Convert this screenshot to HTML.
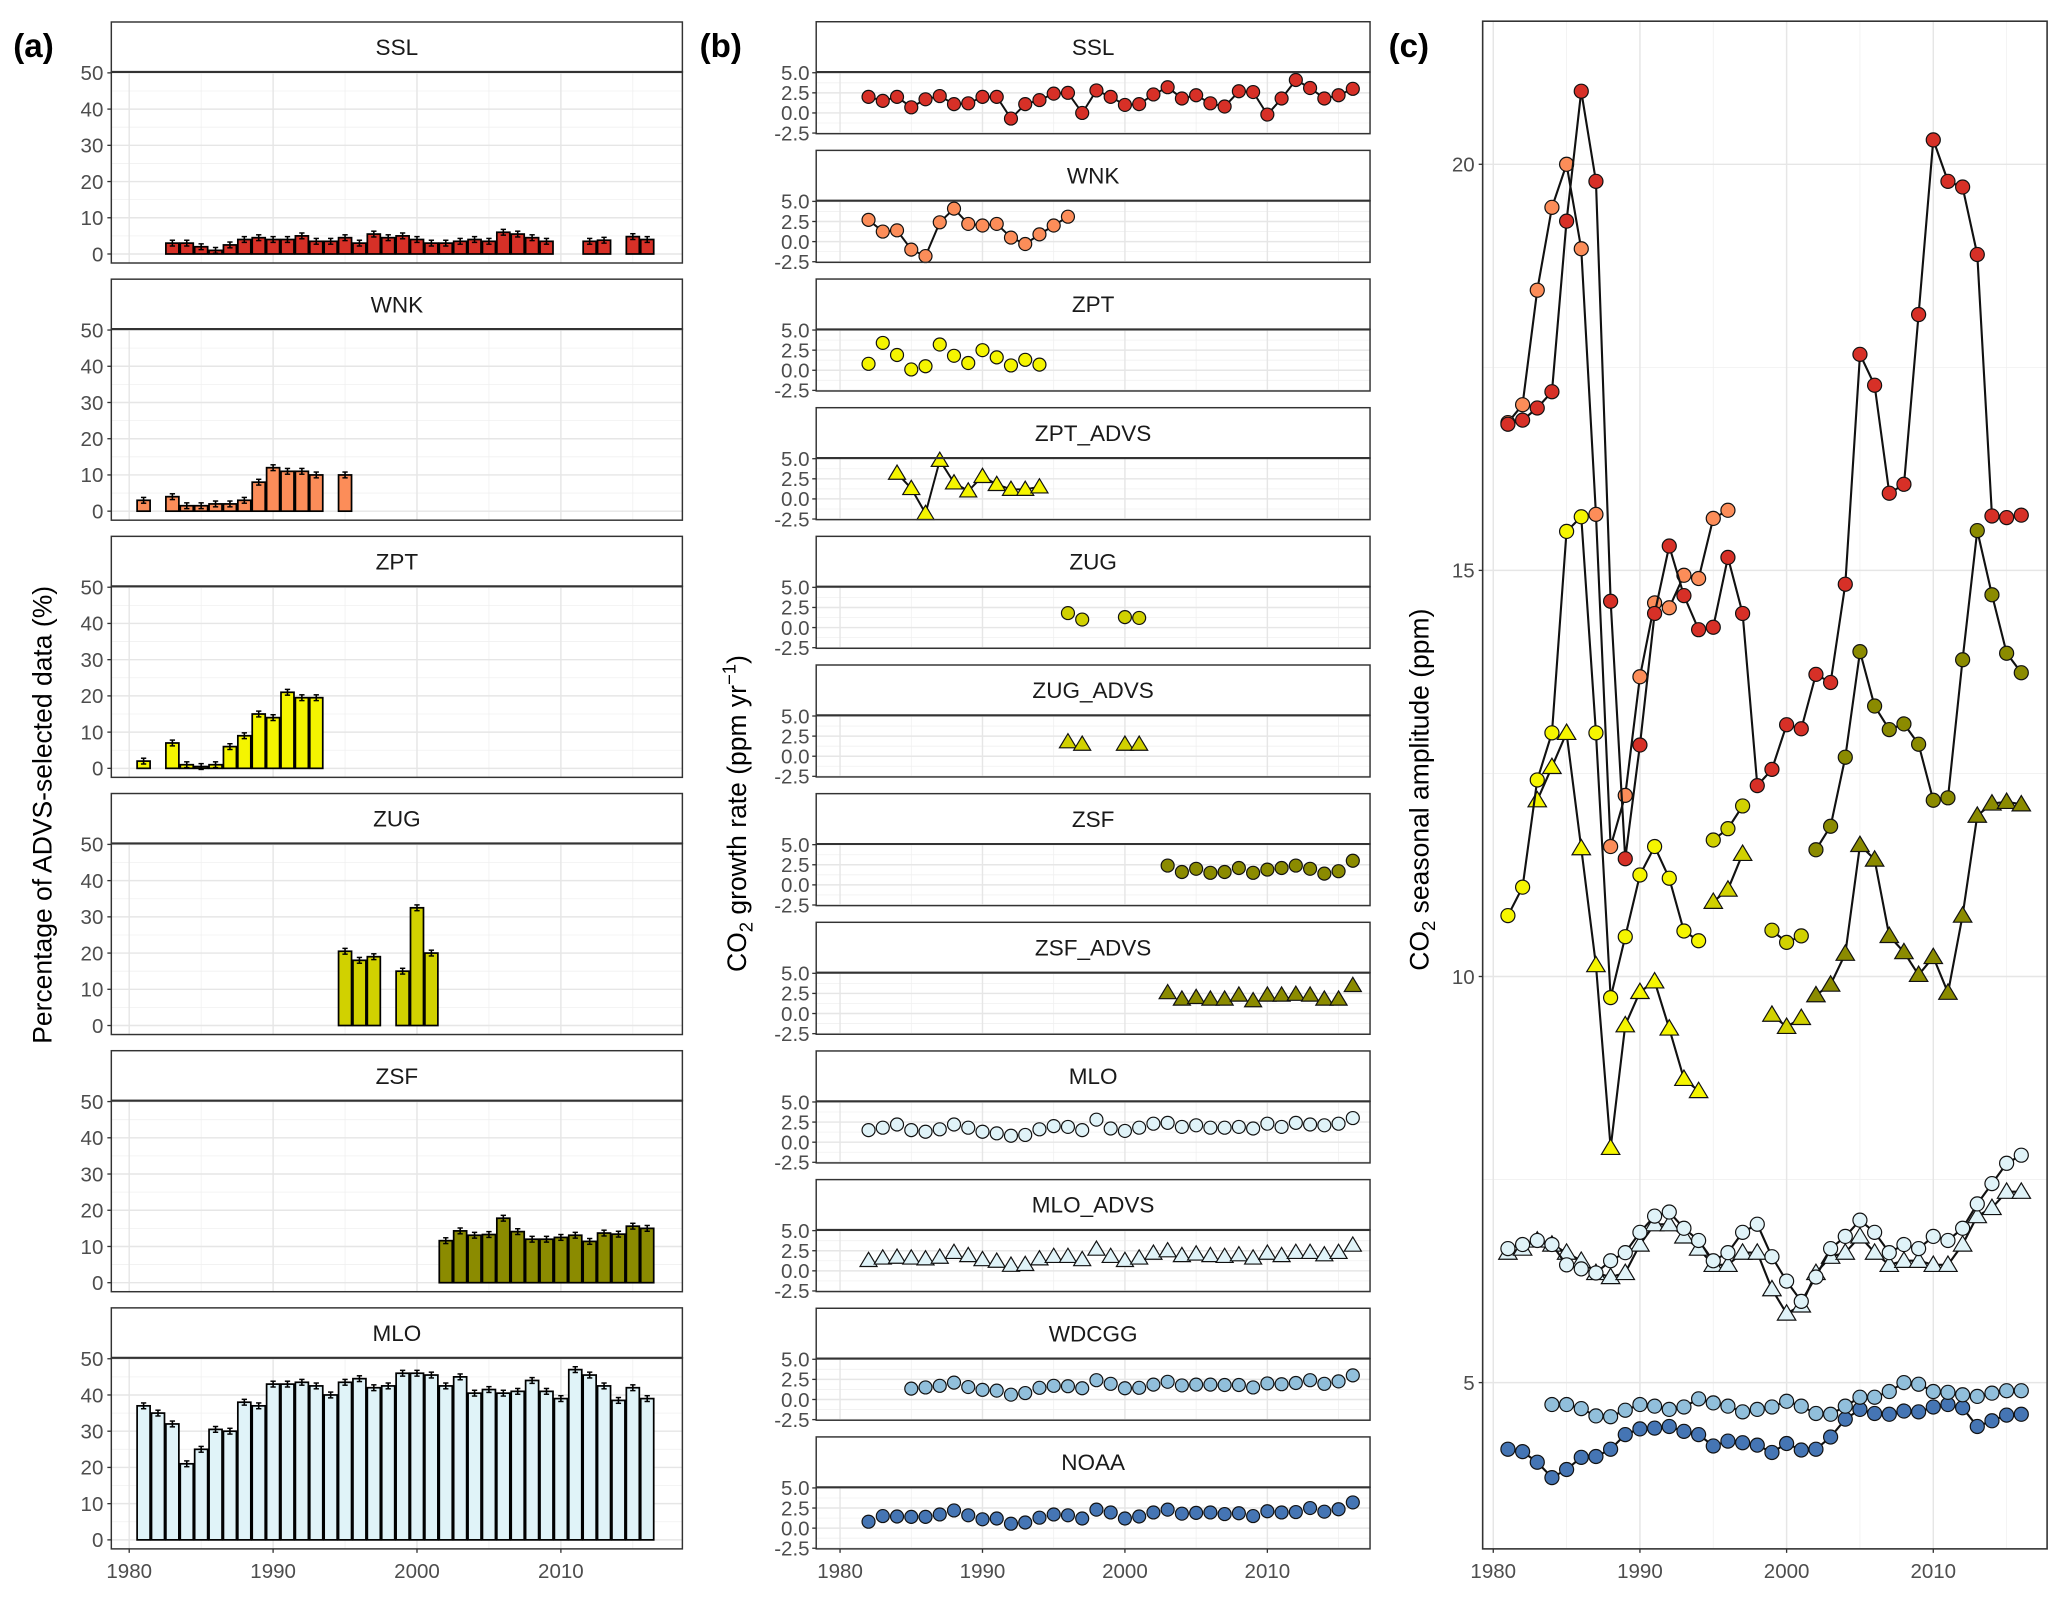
<!DOCTYPE html>
<html><head><meta charset="utf-8"><style>
html,body{margin:0;padding:0;background:#fff;}
svg{display:block;font-family:"Liberation Sans",Arial,sans-serif;}
</style></head><body>
<svg id="fig" xmlns="http://www.w3.org/2000/svg" width="2067" height="1604" viewBox="0 0 1560 1210.6">
<rect x="0" y="0" width="1560" height="1210.6" fill="#fff"/>
<text x="10" y="43" font-size="25" font-weight="bold">(a)</text>
<text x="528" y="43" font-size="25" font-weight="bold">(b)</text>
<text x="1048" y="43" font-size="25" font-weight="bold">(c)</text>
<text transform="translate(39,615) rotate(-90)" text-anchor="middle" font-size="20">Percentage of ADVS-selected data (%)</text>
<text transform="translate(563,614) rotate(-90)" text-anchor="middle" font-size="20">CO<tspan font-size="14" dy="5">2</tspan><tspan dy="-5"> growth rate  (ppm yr</tspan><tspan font-size="14" dy="-8">−1</tspan><tspan dy="8">)</tspan></text>
<text transform="translate(1078,596) rotate(-90)" text-anchor="middle" font-size="20">CO<tspan font-size="14" dy="5">2</tspan><tspan dy="-5"> seasonal amplitude (ppm)</tspan></text>
<g id="ga"></g><g id="gb"></g><g id="gc"></g>
</svg>
<script>
// ---------- Panel (a) data ----------
const aSites = ["SSL","WNK","ZPT","ZUG","ZSF","MLO"];
const aColors = ["#d73027","#fc8d59","#f5f500","#d1d100","#8b8b00","#e0f3f8"];
const aYearsSSL = [1983,1984,1985,1986,1987,1988,1989,1990,1991,1992,1993,1994,1995,1996,1997,1998,1999,2000,2001,2002,2003,2004,2005,2006,2007,2008,2009,2012,2013,2015,2016];
const aValsSSL = [3,3,2,1,2.5,4,4.5,4,4,5,3.5,3.5,4.5,3,5.5,4.5,5,4,3,3,3.5,4,3.5,6,5.5,4.5,3.5,3.5,3.8,4.8,4];
const aYearsWNK = [1981,1983,1984,1985,1986,1987,1988,1989,1990,1991,1992,1993,1995];
const aValsWNK = [3,4,1.5,1.5,2,2,3,8,12,11,11,10,10];
const aYearsZPT = [1981,1983,1984,1985,1986,1987,1988,1989,1990,1991,1992,1993];
const aValsZPT = [2,7,1,0.5,1,6,9,15,14,21,19.5,19.5];
const aYearsZUG = [1995,1996,1997,1999,2000,2001];
const aValsZUG = [20.5,18,19,15,32.5,20];
const aYearsZSF = [2002,2003,2004,2005,2006,2007,2008,2009,2010,2011,2012,2013,2014,2015,2016];
const aValsZSF = [11.6,14.3,13.1,13.3,17.8,14.1,12,12,12.5,13.1,11.4,13.7,13.4,15.6,15];
const aYearsMLO = [1981,1982,1983,1984,1985,1986,1987,1988,1989,1990,1991,1992,1993,1994,1995,1996,1997,1998,1999,2000,2001,2002,2003,2004,2005,2006,2007,2008,2009,2010,2011,2012,2013,2014,2015,2016];
const aValsMLO = [37,35,32,21,25,30.5,30,38,37,43,43,43.5,42.5,40,43.5,44.5,42,42.5,46,46,45.5,42.5,45,40.5,41.5,40.5,41,44,41,39,47,45.5,42.5,38.5,42,39];
const aYTicks = [0,10,20,30,40,50];
const xTickYears = [1980,1990,2000,2010];

// ---------- Panel (b) data ----------
const bSites = ["SSL","WNK","ZPT","ZPT_ADVS","ZUG","ZUG_ADVS","ZSF","ZSF_ADVS","MLO","MLO_ADVS","WDCGG","NOAA"];
const bColors = ["#d73027","#fc8d59","#f5f500","#f5f500","#d1d100","#d1d100","#8b8b00","#8b8b00","#e0f3f8","#e0f3f8","#91bfdb","#4575b4"];
const bShapes = ["c","c","c","t","c","t","c","t","c","t","c","c"];
const bLines = [true,true,false,true,false,false,false,false,false,false,false,false];
const bStart = [1982,1982,1982,1984,1996,1996,2003,2003,1982,1982,1985,1982];
const bValsSSL = [2.0,1.5,2.0,0.7,1.7,2.1,1.1,1.2,2.0,2.0,-0.7,1.1,1.6,2.4,2.5,0,2.8,2.0,1.0,1.1,2.3,3.2,1.8,2.2,1.2,0.8,2.7,2.6,-0.2,1.8,4.1,3.1,1.8,2.2,3.0];
const bValsWNK = [2.7,1.25,1.4,-1.0,-1.8,2.4,4.1,2.2,2.0,2.2,0.5,-0.3,0.9,2.0,3.1];
const bValsZPT = [0.8,3.4,1.9,0.1,0.5,3.2,1.8,0.9,2.5,1.6,0.6,1.3,0.7];
const bValsZPTA = [3.2,1.3,-1.8,4.8,2.0,1.0,2.8,1.8,1.2,1.2,1.5];
const bValsZUG = [1.8,1.0,null,null,1.3,1.2];
const bValsZUGA = [1.8,1.5,null,null,1.5,1.5];
const bValsZSF = [2.4,1.6,2.0,1.5,1.6,2.1,1.5,1.9,2.1,2.4,2.0,1.4,1.7,3.0];
const bValsZSFA = [2.6,1.8,2.0,1.8,1.8,2.3,1.6,2.3,2.3,2.4,2.3,1.8,1.8,3.5];
const bValsMLO = [1.5,1.8,2.2,1.5,1.3,1.6,2.2,1.8,1.3,1.1,0.8,0.9,1.6,2.0,1.9,1.5,2.8,1.7,1.4,1.8,2.3,2.4,1.9,2.1,1.8,1.8,1.9,1.7,2.3,1.9,2.4,2.2,2.1,2.3,3.0];
const bValsMLOA = [1.3,1.6,1.7,1.6,1.5,1.7,2.3,1.9,1.4,1.2,0.7,0.8,1.5,1.8,1.8,1.4,2.7,1.8,1.3,1.6,2.2,2.5,1.9,2.1,1.9,1.8,2.0,1.6,2.2,1.9,2.3,2.3,2.0,2.3,3.2];
const bValsWDCGG = [1.35,1.5,1.7,2.1,1.55,1.2,1.1,0.6,0.8,1.45,1.7,1.65,1.4,2.4,1.95,1.4,1.45,1.85,2.2,1.75,1.85,1.85,1.8,1.8,1.5,2.0,1.9,2.05,2.4,1.95,2.25,3.0];
const bValsNOAA = [0.8,1.5,1.45,1.4,1.4,1.7,2.2,1.6,1.1,1.2,0.55,0.7,1.3,1.7,1.6,1.2,2.3,1.95,1.2,1.45,1.95,2.3,1.8,1.9,1.95,1.75,1.85,1.5,2.1,1.95,2.0,2.5,2.05,2.35,3.2];
const bYTicks = [5.0,2.5,0.0,-2.5];
const bYTickLabels = ["5.0","2.5","0.0","-2.5"];

// ---------- Panel (c) data ----------
const cNames = ["NOAA","WDCGG","MLO_ADVS","MLO","ZSF_ADVS","ZSF","ZUG_ADVS","ZUG","ZPT_ADVS","ZPT","WNK","SSL"];
const cColors = ["#4575b4","#91bfdb","#e0f3f8","#e0f3f8","#8b8b00","#8b8b00","#d1d100","#d1d100","#f5f500","#f5f500","#fc8d59","#d73027"];
const cShapes = ["c","c","t","c","t","c","t","c","t","c","c","c"];
const cStart = [1981,1984,1981,1981,2002,2002,1995,1995,1983,1981,1981,1981];
const cNOAA = [4.18,4.15,4.02,3.83,3.93,4.08,4.09,4.18,4.36,4.43,4.44,4.46,4.4,4.36,4.22,4.28,4.26,4.23,4.14,4.25,4.17,4.18,4.33,4.55,4.67,4.62,4.61,4.65,4.64,4.7,4.73,4.69,4.46,4.53,4.6,4.61];
const cWDCGG = [4.73,4.73,4.68,4.59,4.58,4.66,4.73,4.71,4.67,4.7,4.8,4.75,4.71,4.64,4.67,4.7,4.77,4.71,4.62,4.61,4.71,4.82,4.82,4.89,5.0,4.98,4.89,4.88,4.85,4.83,4.87,4.9,4.9];
const cMLOA = [6.6,6.65,6.75,6.7,6.6,6.5,6.35,6.3,6.35,6.7,6.95,6.95,6.8,6.65,6.45,6.45,6.6,6.6,6.15,5.85,5.95,6.35,6.55,6.6,6.8,6.6,6.45,6.5,6.5,6.45,6.45,6.7,7.05,7.15,7.35,7.35];
const cMLO = [6.65,6.7,6.75,6.7,6.45,6.4,6.35,6.5,6.6,6.85,7.05,7.1,6.9,6.75,6.5,6.6,6.85,6.95,6.55,6.25,6.0,6.3,6.65,6.8,7.0,6.85,6.6,6.7,6.65,6.8,6.75,6.9,7.2,7.45,7.7,7.8];
const cZSFA = [9.77,9.9,10.28,11.62,11.44,10.5,10.3,10.02,10.24,9.8,10.75,11.98,12.13,12.15,12.12];
const cZSF = [11.56,11.85,12.7,14.0,13.33,13.04,13.11,12.86,12.17,12.2,13.9,15.49,14.7,13.98,13.74];
const cZUGA = [10.92,11.07,11.51,null,9.53,9.38,9.49];
const cZUG = [11.68,11.82,12.1,null,10.57,10.42,10.5];
const cZPTA = [12.17,12.58,13.0,11.58,10.14,7.89,9.4,9.81,9.94,9.36,8.74,8.59];
const cZPT = [10.75,11.1,12.42,13.0,15.48,15.66,13.0,9.74,10.49,11.25,11.6,11.21,10.56,10.44];
const cWNK = [16.82,17.04,18.45,19.47,20.0,18.96,15.69,11.6,12.23,13.69,14.6,14.54,14.94,14.9,15.64,15.74];
const cSSL = [16.8,16.85,17.0,17.2,19.3,20.9,19.79,14.62,11.45,12.85,14.47,15.3,14.69,14.27,14.3,15.16,14.47,12.35,12.55,13.1,13.05,13.72,13.62,14.83,17.66,17.28,15.95,16.06,18.15,20.3,19.79,19.72,18.89,15.67,15.65,15.68];
const cYTicks = [5,10,15,20];

// ---------- helpers ----------
const NS = "http://www.w3.org/2000/svg";
function mk(parent, tag, attrs){ const e=document.createElementNS(NS,tag); for(const k in attrs) e.setAttribute(k,attrs[k]); parent.appendChild(e); return e; }
function txt(parent, x, y, s, size, anchor, fill){ const t=mk(parent,"text",{x:x,y:y,"font-size":size,"text-anchor":anchor,fill:fill}); t.textContent=s; return t; }
function marker(g, shape, x, y, fill, r){
  let m;
  if(shape==="t"){ const h=r*1.25; m=mk(g,"polygon",{points:`${x},${y-h} ${x-h*1.05},${y+h*0.75} ${x+h*1.05},${y+h*0.75}`,fill:fill,stroke:"#111","stroke-width":0.9}); }
  else { m=mk(g,"circle",{cx:x,cy:y,r:r,fill:fill,stroke:"#111","stroke-width":0.9}); }
  return m;
}
function gridAndFrame(g, L, R, T, B, xf, yMajors, yMinors, yf){
  for(const v of yMinors){ mk(g,"line",{x1:L,x2:R,y1:yf(v),y2:yf(v),stroke:"#f0f0f0","stroke-width":0.6}); }
  for(let yr=1985; yr<=2015; yr+=10){ const x=xf(yr); if(x>L&&x<R) mk(g,"line",{x1:x,x2:x,y1:T,y2:B,stroke:"#f0f0f0","stroke-width":0.6}); }
  for(const v of yMajors){ mk(g,"line",{x1:L,x2:R,y1:yf(v),y2:yf(v),stroke:"#e6e6e6","stroke-width":1.1}); }
  for(const yr of xTickYears){ const x=xf(yr); mk(g,"line",{x1:x,x2:x,y1:T,y2:B,stroke:"#e6e6e6","stroke-width":1.1}); }
}

// ---------- Panel (a) ----------
(function(){
  const g=document.getElementById("ga");
  const L=84, R=515;
  const xf = yr => 97.5 + (yr-1980)*10.86;
  const years=[aYearsSSL,aYearsWNK,aYearsZPT,aYearsZUG,aYearsZSF,aYearsMLO];
  const vals=[aValsSSL,aValsWNK,aValsZPT,aValsZUG,aValsZSF,aValsMLO];
  aSites.forEach((site,i)=>{
    const st=16.6+194.1*i, pt=st+37.7, pb=pt+144.2;
    const yf = v => pt+137.4 - v*2.734;
    const fg=mk(g,"g",{});
    
    
    gridAndFrame(fg,L,R,pt,pb,xf,aYTicks,[5,15,25,35,45],yf);
    const strip=mk(fg,"rect",{x:L,y:st,width:R-L,height:37.7,fill:"#fff",stroke:"#333","stroke-width":1.1});
    
    
    const stt=txt(fg,(L+R)/2,st+25,site,17,"middle","#1a1a1a");
    
    
    years[i].forEach((yr,k)=>{
      const v=vals[i][k], x=xf(yr), w=9.8;
      const b=mk(fg,"rect",{x:x-w/2,y:yf(v),width:w,height:yf(0)-yf(v),fill:aColors[i],stroke:"#000","stroke-width":1.3});
      
      
      const e=0.8;
      mk(fg,"line",{x1:x,x2:x,y1:yf(v+e),y2:yf(v-e),stroke:"#000","stroke-width":1.2});
      mk(fg,"line",{x1:x-2,x2:x+2,y1:yf(v+e),y2:yf(v+e),stroke:"#000","stroke-width":1.1});
      mk(fg,"line",{x1:x-2,x2:x+2,y1:yf(v-e),y2:yf(v-e),stroke:"#000","stroke-width":1.1});
    });
    mk(fg,"rect",{x:L,y:pt,width:R-L,height:pb-pt,fill:"none",stroke:"#333","stroke-width":1.1});
    mk(fg,"line",{x1:L,x2:R,y1:pt,y2:pt,stroke:"#333","stroke-width":1.6});
    aYTicks.forEach(v=>{
      mk(fg,"line",{x1:L-3,x2:L,y1:yf(v),y2:yf(v),stroke:"#333","stroke-width":1});
      const t=txt(fg,L-6,yf(v)+5.5,String(v),15.5,"end","#4d4d4d");
      
      
    });
    if(i===aSites.length-1){
      xTickYears.forEach(yr=>{
        mk(fg,"line",{x1:xf(yr),x2:xf(yr),y1:pb,y2:pb+3,stroke:"#333","stroke-width":1});
        const t=txt(fg,xf(yr),pb+22,String(yr),15.5,"middle","#4d4d4d");
        
        
      });
    }
  });
})();

// ---------- Panel (b) ----------
(function(){
  const g=document.getElementById("gb");
  const L=616, R=1034;
  const xf = yr => 634 + (yr-1980)*10.75;
  const vals=[bValsSSL,bValsWNK,bValsZPT,bValsZPTA,bValsZUG,bValsZUGA,bValsZSF,bValsZSFA,bValsMLO,bValsMLOA,bValsWDCGG,bValsNOAA];
  bSites.forEach((site,j)=>{
    const st=16.4+97.1*j, pt=st+38, pb=pt+46.5;
    const yf = v => pt+0.5+(5-v)*6.07;
    const fg=mk(g,"g",{});
    
    
    gridAndFrame(fg,L,R,pt,pb,xf,[5,2.5,0,-2.5],[3.75,1.25,-1.25],yf);
    const strip=mk(fg,"rect",{x:L,y:st,width:R-L,height:38,fill:"#fff",stroke:"#333","stroke-width":1.1});
    
    
    const stt=txt(fg,(L+R)/2,st+25,site,17,"middle","#1a1a1a");
    
    
    const arr=vals[j];
    if(bLines[j]){
      let d="";
      arr.forEach((v,k)=>{ if(v===null){return;} const yr=bStart[j]+k; const prev=k>0?arr[k-1]:null; d+=(prev===null?"M":"L")+xf(yr).toFixed(1)+","+yf(v).toFixed(1)+" "; });
      mk(fg,"path",{d:d,fill:"none",stroke:"#111","stroke-width":1.5});
    }
    arr.forEach((v,k)=>{
      if(v===null) return;
      const yr=bStart[j]+k;
      const m=marker(fg,bShapes[j],xf(yr),yf(v),bColors[j],4.9);
      
      
    });
    mk(fg,"rect",{x:L,y:pt,width:R-L,height:pb-pt,fill:"none",stroke:"#333","stroke-width":1.1});
    mk(fg,"line",{x1:L,x2:R,y1:pt,y2:pt,stroke:"#333","stroke-width":1.6});
    bYTicks.forEach((v,k)=>{
      mk(fg,"line",{x1:L-3,x2:L,y1:yf(v),y2:yf(v),stroke:"#333","stroke-width":1});
      const t=txt(fg,L-5,yf(v)+5.5,bYTickLabels[k],15.5,"end","#4d4d4d");
      
      
    });
    if(j===bSites.length-1){
      xTickYears.forEach(yr=>{
        mk(fg,"line",{x1:xf(yr),x2:xf(yr),y1:pb,y2:pb+3,stroke:"#333","stroke-width":1});
        const t=txt(fg,xf(yr),pb+22,String(yr),15.5,"middle","#4d4d4d");
        
        
      });
    }
  });
})();

// ---------- Panel (c) ----------
(function(){
  const g=document.getElementById("gc");
  const L=1119, R=1545, T=16, B=1169;
  const xf = yr => 1127 + (yr-1980)*11.07;
  const yf = v => 124 + (20-v)*61.3;
  gridAndFrame(g,L,R,T,B,xf,cYTicks,[7.5,12.5,17.5],yf);
  const vals=[cNOAA,cWDCGG,cMLOA,cMLO,cZSFA,cZSF,cZUGA,cZUG,cZPTA,cZPT,cWNK,cSSL];
  vals.forEach((arr,i)=>{
    const sg=mk(g,"g",{});
    
    
    let d="";
    arr.forEach((v,k)=>{ if(v===null) return; const prev=k>0?arr[k-1]:null; d+=(prev===null?"M":"L")+xf(cStart[i]+k).toFixed(1)+","+yf(v).toFixed(1)+" "; });
    mk(sg,"path",{d:d,fill:"none",stroke:"#111","stroke-width":1.6});
    arr.forEach((v,k)=>{
      if(v===null) return;
      const yr=cStart[i]+k;
      const m=marker(sg,cShapes[i],xf(yr),yf(v),cColors[i],5.3);
      
      
    });
  });
  mk(g,"rect",{x:L,y:T,width:R-L,height:B-T,fill:"none",stroke:"#333","stroke-width":1.2});
  cYTicks.forEach(v=>{
    mk(g,"line",{x1:L-3,x2:L,y1:yf(v),y2:yf(v),stroke:"#333","stroke-width":1});
    const t=txt(g,L-6,yf(v)+5.5,String(v),15.5,"end","#4d4d4d");
    
    
  });
  xTickYears.forEach(yr=>{
    mk(g,"line",{x1:xf(yr),x2:xf(yr),y1:B,y2:B+3,stroke:"#333","stroke-width":1});
    const t=txt(g,xf(yr),B+22,String(yr),15.5,"middle","#4d4d4d");
    
    
  });
})();
</script>
</body></html>
